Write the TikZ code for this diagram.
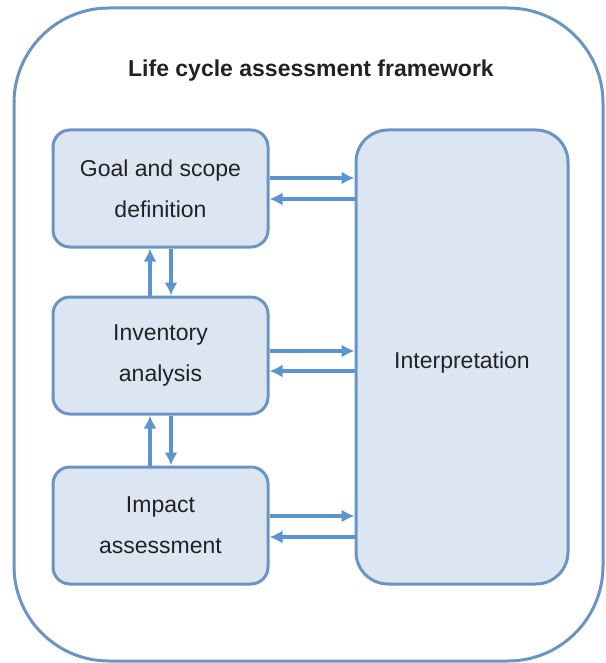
\documentclass[tikz,border=0pt]{standalone}
\usepackage{fontspec}
\setmainfont{Liberation Sans}
\usetikzlibrary{arrows.meta, positioning}
\definecolor{boxfill}{HTML}{DCE6F2}
\definecolor{boxline}{HTML}{6A95C2}
\definecolor{arrowblue}{HTML}{5B95D0}
\definecolor{textgray}{HTML}{222222}
\tikzstyle{block} = [rectangle, draw=boxline, line width=3pt, fill=boxfill, rounded corners=17pt, minimum width=215pt, minimum height=117pt, align=center, text=textgray, font=\fontsize{23}{41}\selectfont, execute at begin node={\rule{0pt}{27pt}}]
\tikzstyle{tall} = [block, rounded corners=32pt, minimum width=212pt, minimum height=454pt]
\tikzstyle{line} = [draw=arrowblue, line width=3.2pt, -{Latex[length=13pt,width=13pt]}]
\tikzstyle{frame} = [draw=boxline, line width=3pt, rounded corners=95pt]

\begin{document}
\begin{tikzpicture}[x=1pt, y=1pt]
        \useasboundingbox (0,0) rectangle (605,-663);
        \path[frame] (14,-8) rectangle (603,-661);

        \node[font=\bfseries\fontsize{23}{28}\selectfont, text=textgray, anchor=base] (00) at (311,-77) {Life cycle assessment framework};

        \node[block] (01) at (160.5,-188.5) {Goal and scope\\definition};

        \node[block, below=47pt of 01] (02) {Inventory\\analysis};
        \path[line] ([xshift=-10.5pt]02.north) -- ([xshift=-10.5pt]01.south);
        \path[line] ([xshift=10.5pt]01.south) -- ([xshift=10.5pt]02.north);

        \node[block, below=50pt of 02] (03) {Impact\\assessment};
        \path[line] ([xshift=-10.5pt]03.north) -- ([xshift=-10.5pt]02.south);
        \path[line] ([xshift=10.5pt]02.south) -- ([xshift=10.5pt]03.north);

        \node[tall, right=85pt of 01.north east, anchor=north west] (04) {Interpretation};
        \path[line] ([yshift=10.5pt]01.east) -- ([yshift=10.5pt]01.east -| 04.west);
        \path[line] ([yshift=-10.5pt]01.east -| 04.west) -- ([yshift=-10.5pt]01.east);
        \path[line] ([yshift=4.5pt]02.east) -- ([yshift=4.5pt]02.east -| 04.west);
        \path[line] ([yshift=-15.5pt]02.east -| 04.west) -- ([yshift=-15.5pt]02.east);
        \path[line] ([yshift=9.5pt]03.east) -- ([yshift=9.5pt]03.east -| 04.west);
        \path[line] ([yshift=-11.5pt]03.east -| 04.west) -- ([yshift=-11.5pt]03.east);
    \end{tikzpicture}
\end{document}
